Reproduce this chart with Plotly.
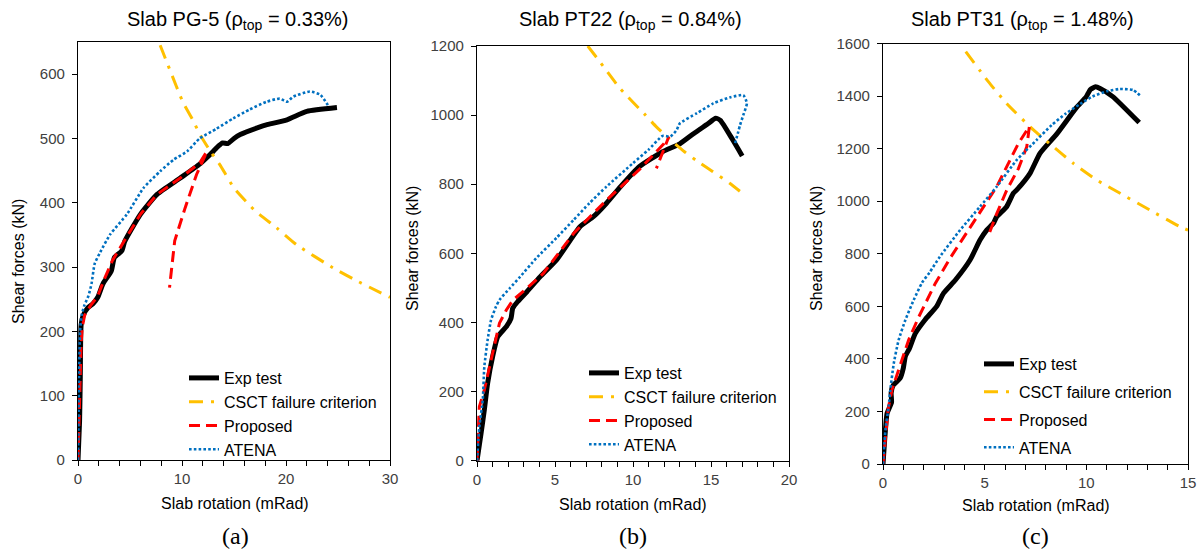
import plotly.graph_objects as go

# ---------------- data ----------------
# Panel (a) Slab PG-5
pg5_exp_x = [0, 0.15, 0.22, 0.25, 0.3, 0.5, 0.96, 1.44, 1.9, 2.4, 3.2, 3.5, 4.2, 4.5, 6.0, 7.6, 9.8, 11.7, 12.7, 13.3, 13.9, 14.4, 15.0, 15.6, 17.5, 18.1, 20.1, 22.0, 24.9]
pg5_exp_y = [0, 60, 130, 180, 210, 225, 237, 243, 253, 274, 294, 315, 325, 340, 382, 413, 438, 460, 475, 485, 493, 492, 500, 506, 518, 521, 529, 542, 548]
pg5_csct_x = [7.9, 8.8, 10.1, 11.0, 11.7, 12.85, 13.65, 15.0, 17.0, 19.1, 21.0, 24.5, 27.0, 30.0]
pg5_csct_y = [645, 608, 556, 530, 507, 477, 459, 423, 388, 361, 335, 299, 277, 253]
pg5_prop_x = [0, 0.1, 0.2, 0.3, 0.4, 0.64, 1.2, 1.9, 2.5, 3.3, 4.5, 6.0, 7.6, 9.8, 11.7, 12.4, 11.4, 10.3, 9.3, 8.8]
pg5_prop_y = [0, 60, 130, 180, 206, 225, 240, 255, 280, 310, 342, 382, 413, 438, 462, 480, 444, 392, 341, 268]
pg5_atena_x = [0, 0.05, 0.1, 0.2, 0.35, 0.6, 1.0, 1.3, 1.6, 2.1, 3.1, 4.7, 6.3, 7.9, 9.2, 10.5, 11.7, 13.3, 14.9, 16.5, 18.1, 19.4, 20.1, 20.7, 22.3, 23.3, 24.1]
pg5_atena_y = [0, 60, 130, 200, 225, 240, 255, 274, 305, 322, 351, 382, 423, 449, 467, 480, 500, 515, 531, 545, 557, 562, 557, 565, 573, 568, 550]

# Panel (b) Slab PT22
pt22_exp_x = [0, 0.04, 0.26, 0.47, 0.68, 1.0, 1.33, 1.88, 2.18, 2.29, 2.6, 3.2, 4.04, 5.1, 6.6, 7.46, 8.3, 9.2, 10.4, 11.9, 13.0, 13.9, 14.8, 15.3, 15.6, 16.4, 17.0]
pt22_exp_y = [0, 12, 79, 147, 224, 301, 359, 388, 412, 441, 460, 489, 532, 581, 677, 706, 745, 793, 851, 894, 917, 947, 975, 991, 985, 928, 882]
pt22_csct_x = [7.1, 7.8, 9.17, 10.8, 11.5, 12.4, 13.3, 14.3, 15.1, 16.2, 16.9]
pt22_csct_y = [1200, 1159, 1077, 1000, 966, 928, 894, 861, 837, 803, 778]
pt22_prop_x = [0, 0.08, 0.15, 0.47, 0.79, 1.12, 1.44, 1.88, 2.31, 3.2, 4.25, 6.2, 8.3, 10.4, 12.2, 12.3, 11.7, 11.5]
pt22_prop_y = [0, 80, 156, 205, 272, 340, 398, 436, 465, 499, 542, 658, 754, 842, 928, 938, 866, 846]
pt22_atena_x = [0, 0.15, 0.37, 0.47, 0.68, 0.9, 1.22, 1.44, 2.1, 2.76, 3.8, 5.1, 6.2, 7.2, 8.3, 10.0, 11.0, 11.9, 12.4, 12.8, 13.0, 14.08, 15.15, 16.2, 17.07, 17.3, 17.07, 16.86, 16.75, 16.54]
pt22_atena_y = [0, 98, 176, 272, 349, 407, 446, 465, 499, 532, 586, 645, 697, 745, 793, 861, 900, 940, 938, 957, 976, 1005, 1034, 1051, 1058, 1034, 1000, 971, 952, 918]

# Panel (c) Slab PT31
pt31_exp_x = [0, 0.08, 0.15, 0.2, 0.42, 0.4, 0.5, 0.84, 1.0, 1.1, 1.3, 1.59, 2.08, 2.64, 2.98, 3.56, 4.28, 4.77, 5.1, 5.43, 5.59, 6.08, 6.41, 6.58, 7.23, 7.72, 8.54, 9.5, 10.0, 10.2, 10.45, 10.7, 11.3, 12.6]
pt31_exp_y = [0, 90, 160, 193, 235, 270, 300, 326, 365, 410, 440, 497, 550, 600, 650, 700, 776, 852, 890, 916, 941, 979, 1030, 1043, 1106, 1182, 1255, 1355, 1398, 1425, 1435, 1428, 1398, 1299]
pt31_csct_x = [4.07, 5.18, 6.08, 7.4, 8.38, 9.36, 10.5, 11.66, 12.97, 14.6, 15.0]
pt31_csct_y = [1569, 1455, 1372, 1271, 1207, 1144, 1081, 1030, 973, 903, 890]
pt31_prop_x = [0, 0.12, 0.26, 0.44, 0.77, 1.26, 1.76, 2.57, 3.3, 4.44, 5.59, 6.66, 7.2, 7.07, 6.66, 6.08, 5.59, 5.15]
pt31_prop_y = [0, 104, 212, 282, 358, 472, 560, 687, 783, 916, 1055, 1220, 1285, 1207, 1124, 1041, 952, 862]
pt31_atena_x = [0, 0.12, 0.28, 0.36, 0.53, 0.77, 1.1, 1.51, 1.92, 2.3, 2.8, 3.79, 4.77, 5.59, 6.58, 7.56, 8.3, 9.0, 9.7, 10.3, 11.0, 11.65, 12.3, 12.7]
pt31_atena_y = [0, 129, 220, 282, 383, 472, 548, 624, 690, 730, 789, 890, 979, 1055, 1157, 1233, 1290, 1334, 1370, 1398, 1418, 1427, 1423, 1398]

series_names = ["Exp test", "CSCT failure criterion", "Proposed", "ATENA"]
panel_titles = ["Slab PG-5 (ρ<sub>top</sub> = 0.33%)",
                "Slab PT22 (ρ<sub>top</sub> = 0.84%)",
                "Slab PT31 (ρ<sub>top</sub> = 1.48%)"]
panel_labels = ["(a)", "(b)", "(c)"]
x_title = "Slab rotation (mRad)"
y_title = "Shear forces (kN)"

panels = [
    dict(exp=(pg5_exp_x, pg5_exp_y), csct=(pg5_csct_x, pg5_csct_y),
         prop=(pg5_prop_x, pg5_prop_y), atena=(pg5_atena_x, pg5_atena_y),
         xr=[0, 30], xd=10, xm=2, yr=[0, 650], yd=100),
    dict(exp=(pt22_exp_x, pt22_exp_y), csct=(pt22_csct_x, pt22_csct_y),
         prop=(pt22_prop_x, pt22_prop_y), atena=(pt22_atena_x, pt22_atena_y),
         xr=[0, 20], xd=5, xm=1, yr=[0, 1200], yd=200),
    dict(exp=(pt31_exp_x, pt31_exp_y), csct=(pt31_csct_x, pt31_csct_y),
         prop=(pt31_prop_x, pt31_prop_y), atena=(pt31_atena_x, pt31_atena_y),
         xr=[0, 15], xd=5, xm=1, yr=[0, 1600], yd=200),
]

# ---------------- layout geometry (pixels) ----------------
W, H = 1204, 550
boxes = [(78, 390, 42, 460), (477, 789, 46, 460.7), (883, 1188, 43.5, 464)]
title_pos = [(238, 20), (630, 20), (1022, 20)]
xtitle_pos = [(235, 503), (633, 504), (1036, 505)]
ytitle_pos = [(18, 262), (412, 249), (816, 249)]
label_pos = [(235, 536), (633, 536), (1035, 536)]
legend_pos = [(184, 361, 0), (584, 356, 0), (979, 347, 4)]

FONT = "Liberation Sans, Arial, sans-serif"
TICKC = "#404040"

styles = {
    "exp": dict(color="black", width=5, dash="solid", shape="spline"),
    "csct": dict(color="#FFC000", width=3, dash="14px,8px,3px,8px", shape="spline"),
    "prop": dict(color="#FF0000", width=3, dash="11px,6px", shape="linear"),
    "atena": dict(color="#0070C0", width=2.6, dash="2.6px,2.2px", shape="spline"),
}
keys = ["exp", "csct", "prop", "atena"]

fig = go.Figure()
annotations = []
for i, p in enumerate(panels):
    sfx = "" if i == 0 else str(i + 1)
    leg = "legend" if i == 0 else f"legend{i + 1}"
    for k, name in zip(keys, series_names):
        xs, ys = p[k]
        st = styles[k]
        fig.add_trace(go.Scatter(
            x=xs, y=ys, mode="lines", name=name,
            line=dict(color=st["color"], width=st["width"], dash=st["dash"],
                      shape=st["shape"], smoothing=0.5),
            xaxis="x" + sfx, yaxis="y" + sfx, legend=leg,
            legendgroup=f"{leg}_{k}", showlegend=True,
        ))
    l, r, t, b = boxes[i]
    axcommon = dict(showline=True, linecolor="black", linewidth=1.3, mirror=True,
                    showgrid=False, zeroline=False, ticks="outside", ticklen=5,
                    tickcolor="black", tickwidth=1,
                    tickfont=dict(family=FONT, size=15, color=TICKC),
                    automargin=False)
    fig.update_layout(**{
        "xaxis" + sfx: dict(domain=[l / W, r / W], range=p["xr"], dtick=p["xd"],
                            tick0=0, anchor="y" + sfx,
                            minor=dict(dtick=p["xm"], ticks="outside", ticklen=5,
                                       tickcolor="black", showgrid=False),
                            **axcommon),
        "yaxis" + sfx: dict(domain=[(H - b) / H, (H - t) / H], range=p["yr"],
                            dtick=p["yd"], tick0=0, anchor="x" + sfx,
                            ticklabelstandoff=4, **axcommon),
    })
    lx, ly, gap = legend_pos[i]
    fig.update_layout(**{leg: dict(
        x=lx / W, y=(H - ly) / H, xanchor="left", yanchor="top",
        xref="paper", yref="paper", bgcolor="rgba(0,0,0,0)",
        font=dict(family=FONT, size=16, color="#000"),
        tracegroupgap=gap, itemwidth=30, traceorder="grouped",
    )})
    tx, ty = title_pos[i]
    annotations.append(dict(text=panel_titles[i], x=tx / W, y=(H - ty) / H,
                            xref="paper", yref="paper", showarrow=False,
                            xanchor="center", yanchor="middle",
                            font=dict(family=FONT, size=20, color="#000")))
    ax_, ay_ = xtitle_pos[i]
    annotations.append(dict(text=x_title, x=ax_ / W, y=(H - ay_) / H,
                            xref="paper", yref="paper", showarrow=False,
                            xanchor="center", yanchor="middle",
                            font=dict(family=FONT, size=16, color="#000")))
    yx, yy = ytitle_pos[i]
    annotations.append(dict(text=y_title, x=yx / W, y=(H - yy) / H,
                            xref="paper", yref="paper", showarrow=False,
                            textangle=-90, xanchor="center", yanchor="middle",
                            font=dict(family=FONT, size=16, color="#000")))
    px_, py_ = label_pos[i]
    annotations.append(dict(text=panel_labels[i], x=px_ / W, y=(H - py_) / H,
                            xref="paper", yref="paper", showarrow=False,
                            xanchor="center", yanchor="middle",
                            font=dict(family="Liberation Serif, Times New Roman, serif",
                                      size=24, color="#000")))

fig.update_layout(width=W, height=H, margin=dict(l=0, r=0, t=0, b=0, pad=0),
                  paper_bgcolor="white", plot_bgcolor="white",
                  annotations=annotations, showlegend=True)
fig.write_html("out.html", config={"displayModeBar": False},
               post_script="document.body.style.margin='0px';document.body.style.overflow='hidden';")
